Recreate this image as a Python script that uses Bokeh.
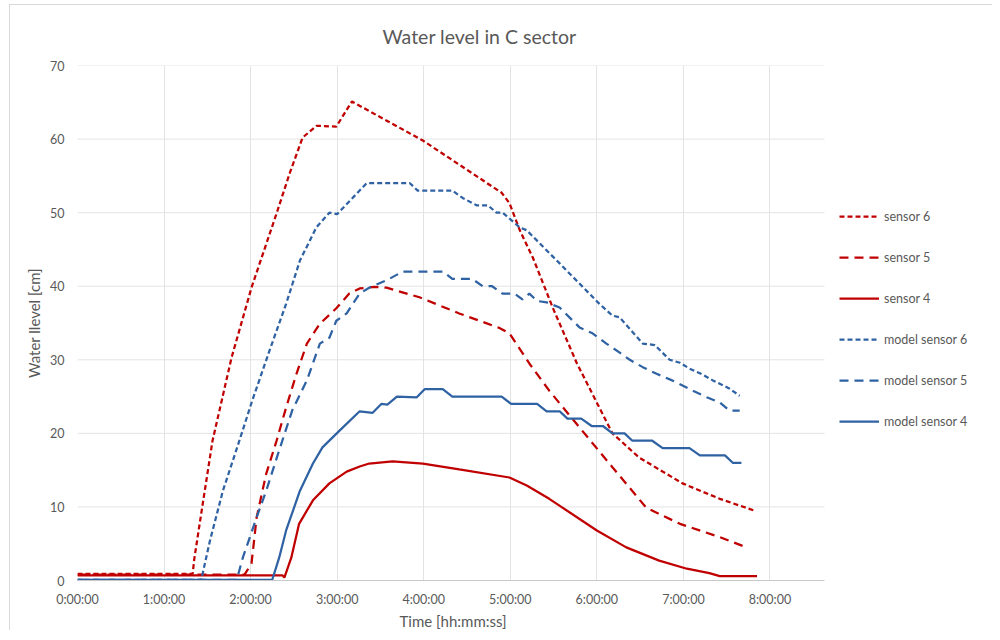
from bokeh.plotting import figure
from bokeh.models import Legend, LegendItem, FixedTicker, Title
from bokeh.embed import file_html
from bokeh.resources import INLINE

# ---- data (time in hours, level in cm) ----
s6_t = [0.0, 1.33, 1.35, 1.44, 1.56, 1.78, 2.01, 2.30, 2.45, 2.60, 2.76, 2.99, 3.17, 3.99, 4.90, 4.99, 5.11, 5.26, 5.49, 5.77, 6.18, 6.49, 6.99, 7.42, 7.82]
s6_y = [0.9, 0.9, 3.0, 9.9, 19.0, 30.3, 39.8, 49.9, 55.3, 60.2, 61.8, 61.7, 65.1, 59.8, 52.7, 51.3, 47.6, 43.9, 37.1, 29.5, 20.0, 16.7, 13.2, 11.1, 9.5]

s5_t = [0.0, 1.93, 2.01, 2.07, 2.18, 2.30, 2.41, 2.53, 2.65, 2.80, 2.99, 3.14, 3.26, 3.43, 3.57, 3.95, 4.41, 4.88, 4.99, 5.22, 5.45, 5.80, 6.18, 6.57, 6.96, 7.42, 7.73]
s5_y = [0.8, 0.8, 2.3, 8.6, 14.5, 19.0, 23.5, 28.1, 32.2, 34.9, 37.0, 39.0, 39.7, 39.9, 39.8, 38.5, 36.3, 34.3, 33.6, 29.5, 25.8, 20.8, 15.4, 9.9, 7.7, 5.9, 4.5]

s4_t = [0.0, 2.37, 2.39, 2.47, 2.56, 2.72, 2.91, 3.11, 3.26, 3.37, 3.64, 3.99, 4.41, 4.99, 5.19, 5.45, 6.00, 6.34, 6.72, 7.04, 7.30, 7.42, 7.85]
s4_y = [0.7, 0.7, 0.4, 3.1, 7.7, 10.9, 13.2, 14.8, 15.5, 15.9, 16.2, 15.9, 15.1, 14.0, 12.9, 11.1, 6.8, 4.5, 2.7, 1.6, 1.0, 0.6, 0.6]

m6_t = [0.0, 1.43, 1.53, 1.68, 1.87, 2.02, 2.22, 2.41, 2.57, 2.76, 2.91, 3.00, 3.34, 3.84, 3.93, 4.33, 4.45, 4.61, 4.74, 4.84, 4.91, 5.11, 5.19, 5.57, 6.03, 6.18, 6.26, 6.53, 6.67, 6.84, 6.96, 7.07, 7.22, 7.34, 7.53, 7.65]
m6_y = [0.1, 0.1, 5.4, 12.2, 19.0, 24.5, 31.3, 37.6, 43.5, 48.0, 50.0, 49.8, 54.0, 54.0, 53.0, 53.0, 52.0, 51.0, 51.0, 50.0, 50.0, 48.0, 47.6, 43.1, 37.6, 36.0, 35.8, 32.2, 32.0, 30.0, 29.6, 28.8, 28.0, 27.2, 26.1, 25.1]

m5_t = [0.0, 1.84, 1.91, 2.07, 2.18, 2.33, 2.48, 2.65, 2.80, 2.91, 2.99, 3.11, 3.18, 3.26, 3.37, 3.57, 3.76, 4.22, 4.33, 4.56, 4.68, 4.79, 4.91, 5.05, 5.14, 5.22, 5.31, 5.42, 5.57, 5.80, 5.95, 6.11, 6.26, 6.38, 6.53, 6.69, 6.87, 7.11, 7.27, 7.42, 7.53, 7.65]
m5_y = [0.1, 0.1, 3.1, 8.6, 12.2, 17.7, 23.1, 27.2, 32.2, 33.0, 35.3, 36.3, 37.6, 39.0, 39.8, 40.8, 42.0, 42.0, 41.0, 41.0, 40.0, 40.0, 39.0, 39.0, 38.2, 39.0, 38.0, 37.8, 37.1, 34.4, 33.6, 32.2, 31.0, 30.0, 29.0, 28.1, 27.2, 25.8, 24.9, 24.2, 23.1, 23.1]

m4_t = [0.0, 2.25, 2.33, 2.41, 2.57, 2.72, 2.83, 3.03, 3.26, 3.41, 3.51, 3.58, 3.69, 3.92, 4.01, 4.22, 4.33, 4.90, 5.01, 5.31, 5.42, 5.57, 5.66, 5.82, 5.94, 6.07, 6.18, 6.32, 6.41, 6.64, 6.76, 7.07, 7.19, 7.48, 7.57, 7.67]
m4_y = [0.1, 0.1, 3.1, 6.8, 12.2, 15.9, 18.1, 20.4, 23.0, 22.8, 24.0, 23.9, 25.0, 24.9, 26.0, 26.0, 25.0, 25.0, 24.0, 24.0, 23.0, 23.0, 22.0, 22.0, 21.0, 21.0, 20.0, 20.0, 19.0, 19.0, 18.0, 18.0, 17.0, 17.0, 16.0, 16.0]

x_ticks = [0, 1, 2, 3, 4, 5, 6, 7, 8]
x_tick_labels = ["0:00:00", "1:00:00", "2:00:00", "3:00:00", "4:00:00", "5:00:00", "6:00:00", "7:00:00", "8:00:00"]
y_ticks = [0, 10, 20, 30, 40, 50, 60, 70]
x_axis_max = 8.63

title_text = "Water level in C sector"
x_label = "Time [hh:mm:ss]"
y_label = "Water llevel [cm]"
series_names = ["sensor 6", "sensor 5", "sensor 4", "model sensor 6", "model sensor 5", "model sensor 4"]

RED = "#C00000"
BLUE = "#2F62A3"
GRID = "#e3e3e3"
TXT = "#595959"
FONT = "Lato"

PLOT_W = 747          # pixel width of the axis area in the original chart
FRAME_W = 915         # frame extended to host the legend on the right
x_range_end = x_axis_max * FRAME_W / PLOT_W

p = figure(frame_width=FRAME_W, frame_height=515, output_backend="svg", toolbar_location=None,
           x_range=(0, x_range_end), y_range=(y_ticks[0], y_ticks[-1]),
           min_border_left=67, min_border_right=0, min_border_top=54, min_border_bottom=10)
p.styles = {"margin-left": "9px", "margin-top": "4px",
            "border-left": "1px solid #d9d9d9", "border-top": "1px solid #d9d9d9"}
p.outline_line_color = None
p.background_fill_color = "white"
p.border_fill_color = "white"

t = Title(text=title_text, align="left", offset=305, standoff=35,
          text_font=FONT, text_font_size="19.5px", text_color=TXT, text_font_style="normal")
p.add_layout(t, "above")

# grid: vertical lines at the hour ticks, horizontal lines only across the axis area
p.xgrid.grid_line_color = GRID
p.xgrid.grid_line_width = 1
p.ygrid.visible = False
p.segment(x0=[0] * (len(y_ticks) - 1), x1=[x_axis_max] * (len(y_ticks) - 1),
          y0=y_ticks[1:], y1=y_ticks[1:], line_color=GRID, line_width=1)

p.xaxis.ticker = FixedTicker(ticks=x_ticks)
p.xaxis.major_label_overrides = {tk: l for tk, l in zip(x_ticks, x_tick_labels)}
p.xaxis.bounds = (0, x_axis_max)
p.yaxis.ticker = FixedTicker(ticks=y_ticks)

for ax in (p.xaxis[0], p.yaxis[0]):
    ax.major_tick_line_color = None
    ax.minor_tick_line_color = None
    ax.major_label_text_color = TXT
    ax.major_label_text_font = FONT
    ax.major_label_text_font_size = "12.5px"
    ax.axis_label_text_color = TXT
    ax.axis_label_text_font = FONT
    ax.axis_label_text_font_size = "15px"
    ax.axis_label_text_font_style = "normal"

p.xaxis.axis_line_color = "#c8c8c8"
p.xaxis.axis_line_width = 1
p.yaxis.axis_line_color = None
p.yaxis.axis_label = y_label
p.xaxis.major_label_standoff = 5
p.yaxis.major_label_standoff = 7
p.yaxis.axis_label_standoff = 4

# x-axis title, centred under the axis area (not under the wider frame)
xt = Title(text=x_label, align="left", offset=322, standoff=1,
           text_font=FONT, text_font_size="15px", text_color=TXT, text_font_style="normal")
p.add_layout(xt, "below")

LW = 2.25
r6 = p.line(s6_t, s6_y, line_color=RED, line_width=LW, line_dash="5 3")
r5 = p.line(s5_t, s5_y, line_color=RED, line_width=LW, line_dash="9 6")
r4 = p.line(s4_t, s4_y, line_color=RED, line_width=LW)
rm6 = p.line(m6_t, m6_y, line_color=BLUE, line_width=LW, line_dash="5 3")
rm5 = p.line(m5_t, m5_y, line_color=BLUE, line_width=LW, line_dash="9 6")
rm4 = p.line(m4_t, m4_y, line_color=BLUE, line_width=LW)

legend = Legend(items=[LegendItem(label=n, renderers=[r]) for n, r in
                       zip(series_names, [r6, r5, r4, rm6, rm5, rm4])],
                location=(762, 149), orientation="vertical",
                glyph_width=40, glyph_height=20, spacing=21, label_standoff=5,
                label_text_font=FONT, label_text_font_size="12.5px", label_text_color=TXT,
                border_line_color=None, background_fill_alpha=0, padding=10, margin=0)
p.add_layout(legend)

open("out.html", "w").write(file_html(p, INLINE))
